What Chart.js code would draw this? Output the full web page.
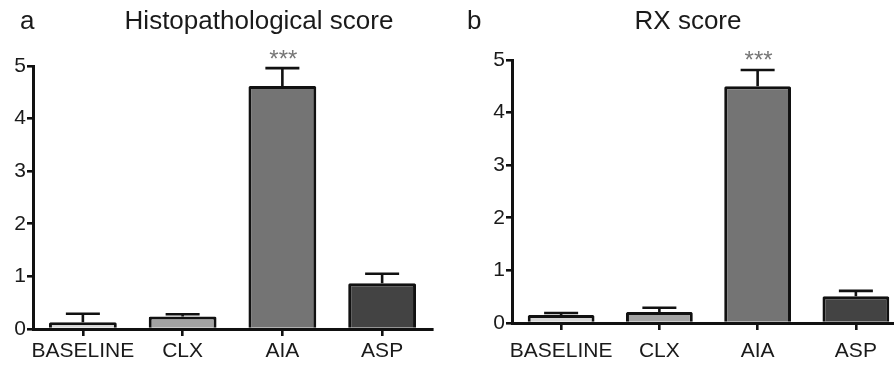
<!DOCTYPE html>
<html>
<head>
<meta charset="utf-8">
<script src="https://cdn.jsdelivr.net/npm/chart.js@4/dist/chart.umd.min.js"></script>
<style>
  html, body { margin: 0; padding: 0; background: #fff; width: 894px; height: 365px; overflow: hidden; }
  body { position: relative; font-family: "Liberation Sans", Arial, sans-serif; color: #1a1a1a; }
  .panel { position: absolute; top: 0; height: 365px; }
  .lbl, .ttl { position: absolute; font-size: 26px; line-height: 1; white-space: nowrap; }
</style>
</head>
<body>
<div class="panel" style="left:0;width:447px"><canvas id="histoChart"></canvas></div>
<div class="panel" style="left:447px;width:460px"><canvas id="rxChart"></canvas></div>
<div class="lbl" style="left:20px;top:7px">a</div>
<div class="ttl" style="left:259px;top:7px;transform:translateX(-50%)">Histopathological score</div>
<div class="lbl" style="left:467px;top:7px">b</div>
<div class="ttl" style="left:688px;top:7px;transform:translateX(-50%)">RX score</div>
<script>
/* Two bar panels with upper SEM whiskers and significance stars. */
var groups = ["BASELINE", "CLX", "AIA", "ASP"];
var histoMeans = [0.13, 0.24, 4.62, 0.87];
var histoErr = [0.16, 0.04, 0.34, 0.18];
var rxMeans = [0.15, 0.21, 4.50, 0.51];
var rxErr = [0.04, 0.08, 0.31, 0.10];
var signif = ["", "", "***", ""];
var yMin = 0, yMax = 5, yStep = 1;
var FILLS = ["#d6d6d6", "#a3a3a3", "#747474", "#434343"];
var FONT = "'Liberation Sans', Arial, sans-serif";

var whiskers = {
  id: "whiskers",
  afterDatasetsDraw: function (chart, args, opts) {
    var ctx = chart.ctx, y = chart.scales.y, meta = chart.getDatasetMeta(0);
    ctx.save();
    ctx.strokeStyle = "#111";
    ctx.lineWidth = 2.6;
    meta.data.forEach(function (bar, i) {
      var top = y.getPixelForValue(opts.means[i] + opts.errs[i]);
      ctx.beginPath();
      ctx.moveTo(bar.x, bar.y);
      ctx.lineTo(bar.x, top);
      ctx.moveTo(bar.x - 17, top);
      ctx.lineTo(bar.x + 17, top);
      ctx.stroke();
      if (opts.stars[i]) {
        ctx.fillStyle = "#777";
        ctx.font = "24px " + FONT;
        ctx.textAlign = "center";
        ctx.textBaseline = "alphabetic";
        ctx.fillText(opts.stars[i], bar.x + 1, top - 1.5);
      }
    });
    ctx.restore();
  }
};

function makePanel(id, means, errs, pad, yWidth, xHeight, xPad) {
  new Chart(document.getElementById(id), {
    type: "bar",
    data: {
      labels: groups,
      datasets: [{
        data: means,
        backgroundColor: FILLS,
        borderColor: "#111",
        borderWidth: 3,
        borderSkipped: "bottom",
        borderRadius: 1.5,
        barPercentage: 0.68,
        categoryPercentage: 1
      }]
    },
    options: {
      responsive: true,
      maintainAspectRatio: false,
      animation: false,
      layout: { padding: pad },
      plugins: {
        legend: { display: false },
        tooltip: { enabled: false },
        whiskers: { means: means, errs: errs, stars: signif }
      },
      scales: {
        x: {
          offset: true,
          afterFit: function (s) { s.height = xHeight; },
          border: { display: true, color: "#111", width: 3, z: 1 },
          grid: { offset: false, drawOnChartArea: false, drawTicks: true, tickLength: 7, color: "#111", lineWidth: 2.6 },
          ticks: { color: "#1a1a1a", font: { size: 21, family: FONT }, padding: xPad, maxRotation: 0, autoSkip: false }
        },
        y: {
          min: yMin, max: yMax,
          afterFit: function (s) { s.width = yWidth; },
          border: { display: true, color: "#111", width: 3 },
          grid: { drawOnChartArea: false, drawTicks: true, tickLength: 6, color: "#111", lineWidth: 2.6 },
          ticks: { stepSize: yStep, color: "#1a1a1a", font: { size: 21, family: FONT }, padding: 1 }
        }
      }
    },
    plugins: [whiskers]
  });
}

makePanel("histoChart", histoMeans, histoErr, { left: 0, right: 15, top: 66, bottom: 0 }, 33, 36, 3);
makePanel("rxChart", rxMeans, rxErr, { left: 32, right: 2, top: 60, bottom: 0 }, 33, 42, 9);
</script>
</body>
</html>
